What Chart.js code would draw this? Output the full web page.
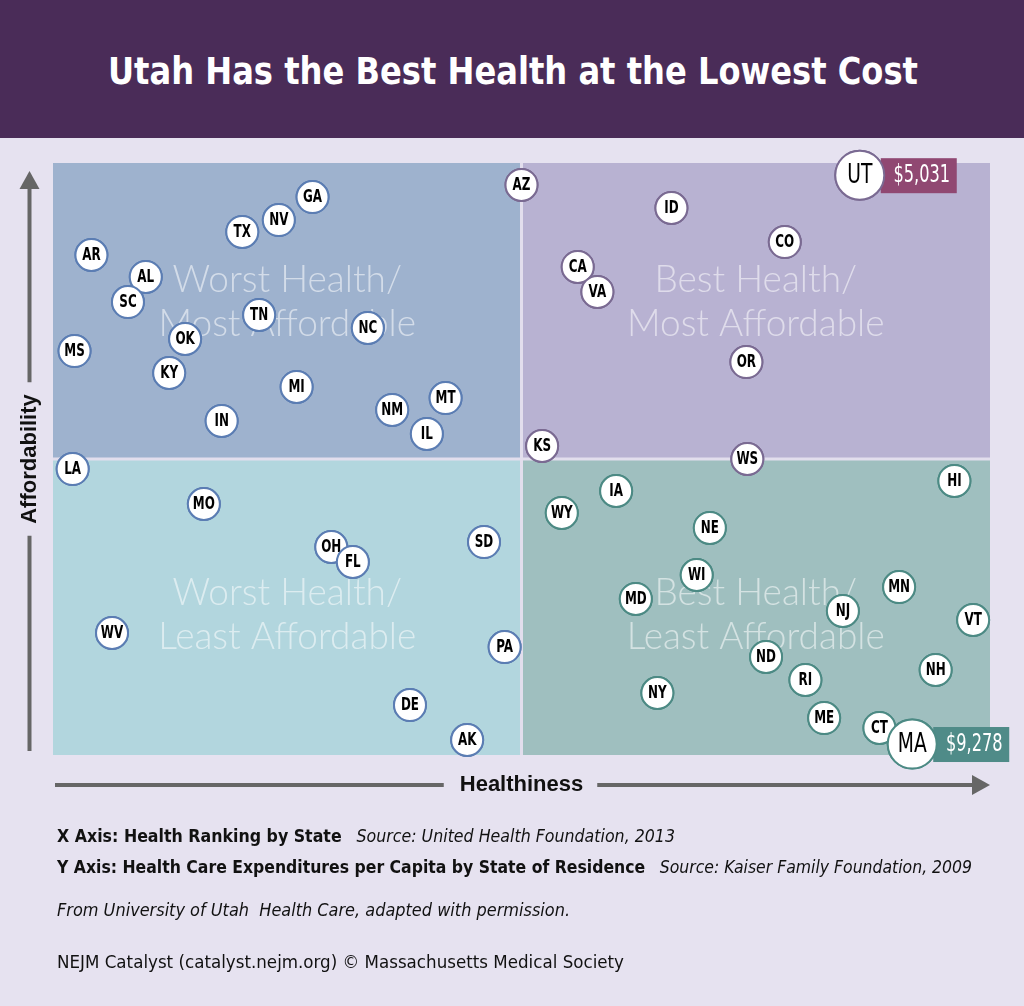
<!DOCTYPE html>
<html>
<head>
<meta charset="utf-8">
<title>Utah Has the Best Health at the Lowest Cost</title>
<script src="https://cdn.jsdelivr.net/npm/chart.js@4.4.1/dist/chart.umd.min.js"></script>
<style>
  body { margin: 0; background: #e6e2f0; }
  #page { position: relative; width: 1024px; height: 1006px; overflow: hidden; background: #e6e2f0; }
  #header { position: absolute; top: 0; left: 0; width: 1024px; height: 138px; background: #4a2c58; }
  #header h1 { margin: 0; position: absolute; top: 49px; left: 108px; color: #fff; white-space: nowrap;
    font: bold 37px 'DejaVu Sans Condensed', sans-serif; line-height: 46px; transform-origin: 0 50%; }
  #chart { position: absolute; top: 0; left: 0; }
  .note { position: absolute; left: 57px; color: #111; white-space: nowrap; line-height: 22px;
    font-family: 'DejaVu Sans Condensed', sans-serif; font-size: 18px; transform-origin: 0 50%; }
  .note b { margin-right: 10px; }
</style>
</head>
<body>
<div id="page">
  <div id="header"><h1 data-w="810">Utah Has the Best Health at the Lowest Cost</h1></div>
  <canvas id="chart" width="1024" height="1006"></canvas>
  <div class="note" data-w="618" style="top:825px"><b>X Axis: Health Ranking by State</b> <i>Source: United Health Foundation, 2013</i></div>
  <div class="note" data-w="915" style="top:856px"><b>Y Axis: Health Care Expenditures per Capita by State of Residence</b> <i>Source: Kaiser Family Foundation, 2009</i></div>
  <div class="note" data-w="513" style="top:899px"><i>From University of Utah&nbsp; Health Care, adapted with permission.</i></div>
  <div class="note" data-w="567" style="top:951px">NEJM Catalyst (catalyst.nejm.org) © Massachusetts Medical Society</div>
</div>
<script>
// state codes, healthiness score (0 = worst, 100 = best) and spending per capita ($)
const states = ['AZ','GA','NV','TX','AR','AL','SC','TN','NC','OK','MS','KY','MI','MT','NM','IN','IL',
  'ID','CO','CA','VA','OR','KS','WS',
  'LA','MO','OH','FL','SD','WV','PA','DE','AK',
  'HI','IA','WY','NE','WI','MN','MD','NJ','VT','ND','NH','RI','NY','ME','CT',
  'UT','MA'];
const health = [50.0, 27.7, 24.1, 20.2, 4.1, 9.9, 8.0, 22.0, 33.6, 14.1, 2.3, 12.4, 26.0, 41.9, 36.2, 18.0, 39.9,
  66.0, 78.1, 56.0, 58.1, 74.0, 52.2, 74.1,
  2.1, 16.1, 29.7, 32.0, 46.0, 6.3, 48.2, 38.1, 44.2,
  96.2, 60.1, 54.3, 70.1, 68.7, 90.3, 62.2, 84.3, 98.2, 76.1, 94.2, 80.3, 64.5, 82.3, 88.2,
  86.1, 91.7];
const spending = [5104, 5194, 5366, 5455, 5627, 5791, 5978, 6075, 6172, 6254, 6344, 6508, 6612, 6695, 6784, 6866, 6963,
  5276, 5530, 5716, 5903, 6426, 7053, 7150,
  7225, 7486, 7807, 7919, 7770, 8449, 8554, 8987, 9248,
  7314, 7389, 7553, 7665, 8016, 8106, 8195, 8285, 8352, 8628, 8725, 8800, 8897, 9084, 9158,
  5031, 9278];

// the two states called out with their dollar figure
const calloutStates = ['UT', 'MA'];
const calloutLabels = ['$5,031', '$9,278'];

// quadrant split and watermark text
const midHealth = 50;
const midSpending = 7150;
const quadrantText = [
  ['Worst Health/', 'Most Affordable'],
  ['Best Health/', 'Most Affordable'],
  ['Worst Health/', 'Least Affordable'],
  ['Best Health/', 'Least Affordable']
];

const NARROW = "'DejaVu Sans Condensed', sans-serif";

// squeeze the html text lines to the widths of the original
document.querySelectorAll('[data-w]').forEach(el => {
  const w = el.getBoundingClientRect().width;
  el.style.transform = 'scaleX(' + (+el.dataset.w / w) + ')';
});

function quadrantOf(x, y) {
  return (y <= midSpending ? 0 : 2) + (x >= midHealth ? 1 : 0);
}
const quadFill = ['#9eb2ce', '#b8b2d2', '#b2d6de', '#9fbfbf'];
const quadBorder = ['#5b7db3', '#7a6a92', '#5b7db3', '#4c8a84'];
const calloutFill = ['#904872', '#904872', '#4f8b88', '#4f8b88'];

const points = states.map((s, i) => ({ x: health[i], y: spending[i], state: s }));

// canvas text squeezed horizontally (narrow face not installed)
function narrowText(ctx, text, x, y, sx) {
  ctx.save();
  ctx.translate(x, y);
  ctx.scale(sx, 1);
  ctx.fillText(text, 0, 0);
  ctx.restore();
}

const quadrantPlugin = {
  id: 'quadrants',
  beforeDatasetsDraw(chart) {
    const { ctx, chartArea: a, scales } = chart;
    const mx = scales.x.getPixelForValue(midHealth);
    const my = scales.y.getPixelForValue(midSpending);
    ctx.save();
    const rects = [
      [a.left, a.top, mx - a.left, my - a.top],
      [mx, a.top, a.right - mx, my - a.top],
      [a.left, my, mx - a.left, a.bottom - my],
      [mx, my, a.right - mx, a.bottom - my]
    ];
    rects.forEach((r, q) => {
      ctx.fillStyle = quadFill[q];
      ctx.fillRect(r[0], r[1], r[2], r[3]);
    });
    // divider lines
    ctx.fillStyle = '#e2deed';
    ctx.fillRect(mx - 1.5, a.top, 3, a.bottom - a.top);
    ctx.fillRect(a.left, my - 1.5, a.right - a.left, 3);

    // watermark labels
    ctx.fillStyle = 'rgba(255,255,255,0.55)';
    ctx.font = "300 37px Lato, 'Open Sans', sans-serif";
    ctx.textAlign = 'center';
    ctx.textBaseline = 'middle';
    rects.forEach((r, q) => {
      const cx = r[0] + r[2] / 2;
      const cy = r[1] + r[3] / 2 + (q < 2 ? -9 : 8);
      ctx.fillText(quadrantText[q][0], cx, cy - 22);
      ctx.fillText(quadrantText[q][1], cx, cy + 22);
    });
    ctx.restore();
  }
};

const labelPlugin = {
  id: 'stateLabels',
  afterDatasetsDraw(chart) {
    const { ctx } = chart;
    const meta = chart.getDatasetMeta(0);
    ctx.save();
    ctx.textAlign = 'center';
    ctx.textBaseline = 'middle';
    meta.data.forEach((el, i) => {
      const p = points[i];
      const q = quadrantOf(p.x, p.y);
      const c = calloutStates.indexOf(p.state);
      if (c >= 0) {
        ctx.fillStyle = calloutFill[q];
        ctx.fillRect(el.x + 21, el.y - 17, 76, 35);
        ctx.fillStyle = '#fff';
        ctx.font = '24px ' + NARROW;
        narrowText(ctx, calloutLabels[c], el.x + 62, el.y + 1, 0.75);
      }
      // redraw the point so overlapping circles stack in order
      el.draw(ctx);
      ctx.fillStyle = '#000';
      if (c >= 0) {
        ctx.font = '26px ' + NARROW;
        narrowText(ctx, p.state, el.x, el.y + 1, 0.8);
      } else {
        ctx.font = 'bold 17px ' + NARROW;
        narrowText(ctx, p.state, el.x, el.y + 1, 0.78);
      }
    });
    ctx.restore();
  }
};

const axisPlugin = {
  id: 'axisArrows',
  afterDraw(chart) {
    const { ctx, chartArea: a } = chart;
    ctx.save();
    ctx.fillStyle = '#666';
    ctx.strokeStyle = '#666';
    ctx.lineWidth = 4;
    ctx.font = "bold 22px 'Liberation Sans', Arial, sans-serif";
    ctx.textAlign = 'center';
    ctx.textBaseline = 'middle';

    // vertical: Affordability
    const ax = a.left - 23.5;
    const ay = (a.top + a.bottom) / 2;
    const vw = ctx.measureText('Affordability').width;
    ctx.beginPath();
    ctx.moveTo(ax, a.top + 24);
    ctx.lineTo(ax, ay - vw / 2 - 12);
    ctx.moveTo(ax, ay + vw / 2 + 12);
    ctx.lineTo(ax, a.bottom - 4);
    ctx.stroke();
    ctx.beginPath();
    ctx.moveTo(ax, a.top + 8);
    ctx.lineTo(ax - 10, a.top + 26);
    ctx.lineTo(ax + 10, a.top + 26);
    ctx.closePath();
    ctx.fill();

    // horizontal: Healthiness
    const hy = a.bottom + 30;
    const hx = (a.left + a.right) / 2;
    const hw = ctx.measureText('Healthiness').width;
    ctx.beginPath();
    ctx.moveTo(a.left + 2, hy);
    ctx.lineTo(hx - hw / 2 - 16, hy);
    ctx.moveTo(hx + hw / 2 + 14, hy);
    ctx.lineTo(a.right - 16, hy);
    ctx.stroke();
    ctx.beginPath();
    ctx.moveTo(a.right, hy);
    ctx.lineTo(a.right - 18, hy - 10);
    ctx.lineTo(a.right - 18, hy + 10);
    ctx.closePath();
    ctx.fill();

    ctx.fillStyle = '#111';
    ctx.fillText('Healthiness', hx, hy);
    ctx.translate(ax, ay);
    ctx.rotate(-Math.PI / 2);
    ctx.fillText('Affordability', 0, 0);
    ctx.restore();
  }
};

new Chart(document.getElementById('chart'), {
  type: 'scatter',
  data: {
    datasets: [{
      data: points,
      clip: false,
      pointRadius: ctx => calloutStates.includes(ctx.raw.state) ? 24.5 : 16,
      pointBorderWidth: 2,
      pointBackgroundColor: '#fff',
      pointBorderColor: ctx => quadBorder[quadrantOf(ctx.raw.x, ctx.raw.y)]
    }]
  },
  options: {
    responsive: false,
    animation: false,
    devicePixelRatio: 1,
    events: [],
    layout: { padding: { left: 53, right: 34, top: 163, bottom: 251 } },
    scales: {
      x: { type: 'linear', min: 0, max: 100, display: false },
      y: { type: 'linear', min: 4940, max: 9360, reverse: true, display: false }
    },
    plugins: { legend: { display: false }, tooltip: { enabled: false }, title: { display: false } }
  },
  plugins: [quadrantPlugin, labelPlugin, axisPlugin]
});
</script>
</body>
</html>
